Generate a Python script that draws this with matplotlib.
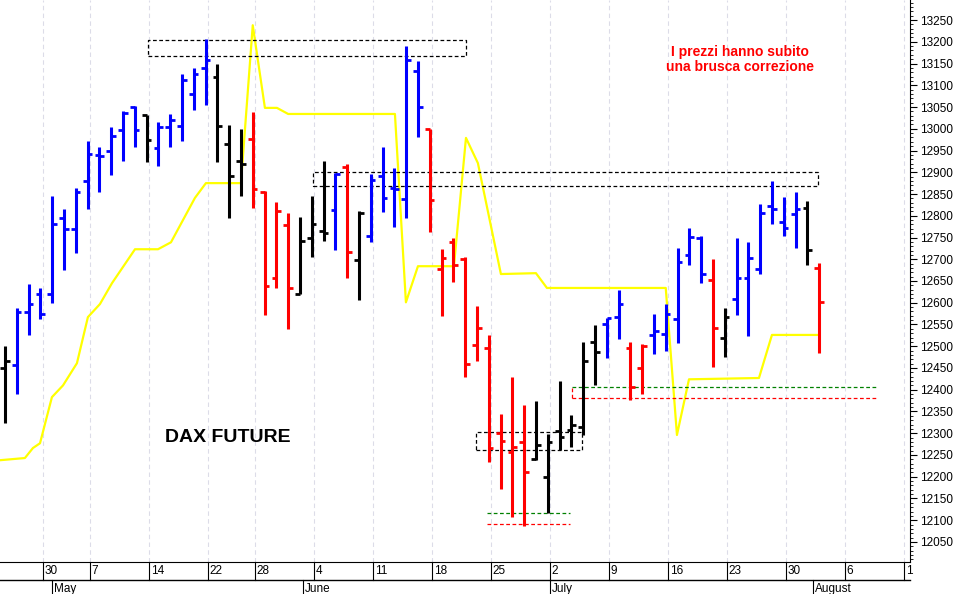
import numpy as np
import matplotlib.pyplot as plt
from matplotlib.ticker import MultipleLocator
import matplotlib.transforms as mtransforms

plt.rcParams["font.family"] = ["Liberation Sans", "DejaVu Sans"]

# daily OHLC bars (trading-day index 0..69)
highs = [12501, 12589, 12643, 12635, 12846, 12815, 12863, 12972, 12957, 13005,
         13041, 13053, 13031, 13015, 13035, 13127, 13139, 13206, 13150, 13008,
         12999, 13038, 12857, 12831, 12807, 12798, 12846, 12926, 12899, 12918,
         12811, 12895, 12957, 12909, 13190, 13156, 12999, 12723, 12750, 12706,
         12592, 12526, 12345, 12430, 12366, 12374, 12299, 12420, 12341, 12509,
         12548, 12564, 12629, 12510, 12506, 12574, 12597, 12725, 12771, 12754,
         12700, 12589, 12748, 12739, 12827, 12880, 12842, 12854, 12834, 12692]
lows = [12324, 12390, 12526, 12562, 12600, 12675, 12715, 12815, 12855, 12893,
        12926, 12959, 12923, 12914, 12957, 12972, 13043, 13054, 12923, 12794,
        12846, 12818, 12571, 12633, 12539, 12621, 12706, 12742, 12721, 12658,
        12606, 12739, 12809, 12775, 12795, 12982, 12762, 12570, 12647, 12430,
        12466, 12234, 12171, 12108, 12087, 12238, 12117, 12261, 12269, 12296,
        12412, 12472, 12516, 12376, 12391, 12482, 12489, 12508, 12687, 12646,
        12453, 12476, 12571, 12524, 12667, 12782, 12754, 12725, 12687, 12485]
opens = [12450, 12457, 12579, 12621, 12620, 12794, 12769, 12880, 12940, 12949,
         12997, 13049, 13031, 12955, 13005, 13007, 13080, 13139, 13118, 12966,
         12926, 12976, 12854, 12656, 12779, 12621, 12750, 12765, 12813, 12913,
         12698, 12754, 12892, 12863, 12838, 13133, 12999, 12677, 12740, 12700,
         12503, 12495, 12301, 12257, 12279, 12240, 12200, 12305, 12307, 12315,
         12510, 12550, 12568, 12497, 12449, 12526, 12529, 12562, 12709, 12748,
         12652, 12518, 12608, 12658, 12677, 12822, 12786, 12805, 12818, 12680]
closes = [12466, 12579, 12597, 12575, 12782, 12769, 12854, 12942, 12938, 12983,
          13037, 12997, 12974, 13005, 13020, 13112, 13126, 13158, 13007, 12892,
          12920, 12861, 12639, 12811, 12634, 12742, 12781, 12760, 12896, 12717,
          12807, 12882, 12840, 12861, 13158, 13049, 12836, 12704, 12686, 12460,
          12541, 12265, 12282, 12269, 12210, 12272, 12279, 12292, 12319, 12466,
          12487, 12564, 12597, 12407, 12500, 12535, 12574, 12693, 12752, 12667,
          12541, 12568, 12658, 12704, 12807, 12815, 12771, 12815, 12721, 12601]
bar_colors = (["k"] + ["b"] * 11 + ["k"] + ["b"] * 5 + ["k"] * 3 + ["r"] * 4
              + ["k"] * 3 + ["b", "r", "k"] + ["b"] * 5 + ["r"] * 9 + ["k"] * 6
              + ["b"] * 2 + ["r"] * 2 + ["b"] * 5 + ["r", "k"] + ["b"] * 6 + ["k", "r"])

# yellow stop line (index, price)
stop_x = [-0.42, 1.69, 2.37, 2.97, 3.98, 4.92, 6.10, 7.03, 8.05, 9.07, 11.02, 12.97,
          14.07, 16.10, 17.03, 20.0, 21.0, 22.03, 23.05, 24.0, 33.05, 33.98, 35.0,
          38.05, 39.07, 40.08, 42.03, 45.0, 45.93, 56.0, 56.95, 57.97, 63.9, 65.0, 69.0]
stop_y = [12238, 12243, 12266, 12277, 12383, 12410, 12461, 12567, 12597, 12645, 12723,
          12723, 12739, 12841, 12875, 12875, 13238, 13048, 13048, 13034, 13034, 12601,
          12684, 12684, 12979, 12921, 12666, 12668, 12634, 12634, 12296, 12424, 12427,
          12526, 12526]

day_pos = [3.2, 7.2, 12.2, 17.2, 21.2, 26.2, 31.2, 36.2, 41.2, 46.2, 51.2, 56.2, 61.2, 66.2, 71.2, 76.2]
day_labels = ["30", "7", "14", "22", "28", "4", "11", "18", "25", "2", "9", "16", "23", "30", "6", "1"]
month_pos = [4.0, 25.3, 46.2, 68.5]
month_labels = ["May", "June", "July", "August"]

fig = plt.figure(figsize=(9.57, 5.94), dpi=100)
ax = fig.add_axes([0.0, 32 / 594, 910 / 957, 562 / 594])

for xp in day_pos:
    ax.axvline(xp, color="#dcdce8", lw=0.8, ls=(0, (4, 3)), zorder=0)

ax.plot(stop_x, stop_y, color="#ffff00", lw=1.6, zorder=1)

w = 0.4
for i in range(len(highs)):
    c = {"k": "black", "b": "#0000ff", "r": "#ff0000"}[bar_colors[i]]
    ax.vlines(i, lows[i], highs[i], color=c, lw=2.2, zorder=3)
    ax.hlines(opens[i], i - w, i, color=c, lw=2.0, zorder=3)
    ax.hlines(closes[i], i, i + w, color=c, lw=2.0, zorder=3)

dash = (0, (3, 2))
def box(x0, x1, y0, y1, col="black"):
    ax.plot([x0, x1, x1, x0, x0], [y0, y0, y1, y1, y0], color=col, lw=0.9, ls=dash, zorder=2)

box(12.1, 39.1, 13167, 13204)
box(26.1, 68.9, 12868, 12900)
box(39.9, 48.9, 12261, 12302)
ax.plot([40.85, 47.9], [12116, 12116], color="green", lw=0.9, ls=dash)
ax.plot([40.85, 47.9], [12091, 12091], color="red", lw=0.9, ls=dash)
ax.plot([48.05, 74.0], [12406, 12406], color="green", lw=0.9, ls=dash)
ax.plot([48.05, 74.0], [12381, 12381], color="red", lw=0.9, ls=dash)
ax.plot([48.05, 48.05], [12381, 12406], color="red", lw=0.9, ls=dash)

ax.text(18.9, 12290, "DAX FUTURE", fontsize=14, fontweight="bold", ha="center", va="center")
ax.text(62.3, 13160, "I prezzi hanno subito\nuna brusca correzione", color="red",
        fontsize=10, fontweight="bold", ha="center", va="center", linespacing=1.1)

ax.set_xlim(-0.42, 76.7)
ax.set_ylim(12004, 13296)
ax.yaxis.tick_right()
ax.yaxis.set_major_locator(MultipleLocator(50))
ax.yaxis.set_minor_locator(MultipleLocator(10))
ax.tick_params(axis="y", which="major", length=5, labelsize=8.5, pad=2)
ax.tick_params(axis="y", which="minor", length=2.5)
ax.set_xticks([])
for s in ["top", "left"]:
    ax.spines[s].set_visible(False)

# date rows under the plot
trans = mtransforms.blended_transform_factory(ax.transData, ax.transAxes)
row = 18 / 562
for xp, lab in zip(day_pos, day_labels):
    ax.plot([xp, xp], [0, -row], color="black", lw=0.8, transform=trans, clip_on=False)
    ax.text(xp + 0.15, -row / 2, lab, fontsize=8.5, ha="left", va="center",
            transform=trans, clip_on=False)
for xp, lab in zip(month_pos, month_labels):
    ax.plot([xp, xp], [-row, -2 * row], color="black", lw=0.8, transform=trans, clip_on=False)
    ax.text(xp + 0.15, -1.5 * row, lab, fontsize=8.5, ha="left", va="center",
            transform=trans, clip_on=False)
ax.plot([-0.42, 76.7], [-row, -row], color="black", lw=1.0, transform=trans, clip_on=False)

fig.savefig("out.png", dpi=100)
